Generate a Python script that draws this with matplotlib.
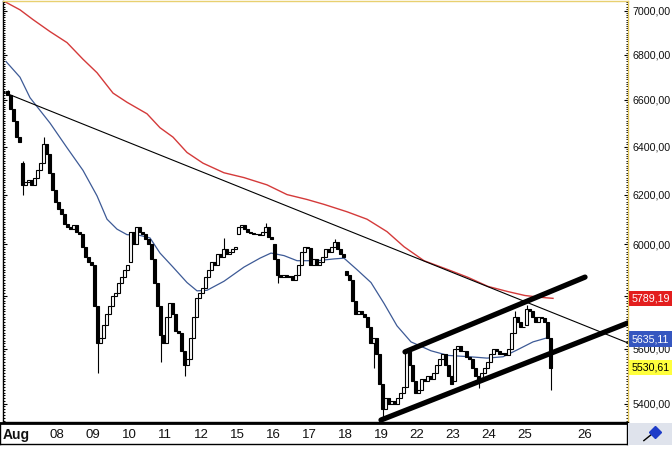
import matplotlib
matplotlib.use('Agg')
import matplotlib.pyplot as plt
import numpy as np
import matplotlib.transforms as mtransforms
from matplotlib.ticker import FixedLocator, FuncFormatter, NullFormatter

plt.rcParams['font.family'] = ['Liberation Sans', 'DejaVu Sans']

# ---------------- data ----------------
bars_per_day = 12
session_day = [-1, 0, 1, 2, 3, 4, 5, 6, 7, 8, 9, 10, 11, 12, 13, 14]
session_first_bar = [7, 0, 0, 0, 0, 0, 0, 0, 0, 0, 0, 0, 0, 0, 0, 0]
session_open = [6640, 6330, 6170, 5920, 5930, 5620, 5810, 6040,
                6000, 5985, 5895, 5470, 5440, 5480, 5550, 5690]

aug06 = [6620, 6560, 6510, 6440, 6420]
aug07 = [6240, 6250, 6260, 6240, 6270, 6300, 6330, 6410, 6370, 6290, 6220, 6170]
aug08 = [6140, 6120, 6080, 6070, 6060, 6075, 6050, 6040, 5990, 5950, 5930, 5920]
aug09 = [5760, 5620, 5640, 5690, 5730, 5760, 5800, 5810, 5850, 5870, 5900, 5920]
aug10 = [6050, 6000, 6070, 6050, 6040, 6020, 6000, 5940, 5850, 5760, 5650, 5620]
aug11 = [5720, 5770, 5730, 5665, 5660, 5590, 5540, 5560, 5640, 5720, 5790, 5810]
aug12 = [5830, 5870, 5900, 5930, 5920, 5960, 5950, 5980, 5960, 5970, 5980, 5990]
aug15 = [6070, 6075, 6060, 6050, 6045, 6040, 6040, 6035, 6050, 6070, 6030, 6020]
aug16 = [5940, 5880, 5870, 5880, 5870, 5875, 5860, 5880, 5920, 5970, 5990, 5985]
aug17 = [5920, 5940, 5920, 5930, 5950, 5980, 5970, 5990, 6010, 5980, 5960, 5950]
aug18 = [5880, 5860, 5780, 5730, 5740, 5730, 5720, 5680, 5620, 5640, 5580, 5470]
aug19 = [5380, 5420, 5400, 5410, 5400, 5420, 5440, 5460, 5590, 5540, 5480, 5440]
aug22 = [5450, 5490, 5480, 5500, 5490, 5510, 5540, 5560, 5580, 5540, 5500, 5470]
aug23 = [5600, 5610, 5590, 5590, 5570, 5560, 5530, 5500, 5480, 5510, 5530, 5550]
aug24 = [5580, 5600, 5590, 5580, 5585, 5575, 5600, 5660, 5720, 5700, 5680, 5680]
aug25 = [5750, 5740, 5720, 5700, 5720, 5715, 5700, 5640, 5530.61]
session_closes = [aug06, aug07, aug08, aug09, aug10, aug11, aug12, aug15,
                  aug16, aug17, aug18, aug19, aug22, aug23, aug24, aug25]

# wick extremes: (session number in list, bar in session, price)
wick_highs = [(0, 0, 6645), (1, 0, 6340), (1, 7, 6440), (6, 7, 6025),
              (7, 9, 6085), (9, 8, 6020), (14, 8, 5740), (15, 0, 5765)]
wick_lows = [(1, 0, 6200), (3, 1, 5510), (4, 10, 5550), (5, 6, 5500),
             (8, 1, 5850), (10, 9, 5530), (11, 0, 5345), (13, 8, 5455),
             (15, 8, 5450)]

# moving averages (x in day units, Aug 7 = 0)
blue_x = [-0.417, -0.028, 0.25, 0.806, 1.278, 1.722, 2.111, 2.389, 2.667, 2.944,
          3.306, 3.583, 3.861, 4.222, 4.611, 4.889, 5.167, 5.639, 6.194, 6.639,
          6.944, 7.306, 7.667, 8.222, 8.694, 8.972, 9.333, 9.722, 10.083, 10.444,
          10.833, 11.389, 11.861, 12.472, 12.944, 13.389, 13.778, 14.222, 14.611, 14.75]
blue_y = [6770, 6700, 6610, 6500, 6395, 6300, 6195, 6100, 6060, 6038,
          6035, 6025, 5965, 5910, 5850, 5818, 5820, 5855, 5910, 5945,
          5965, 5955, 5935, 5935, 5942, 5945, 5900, 5850, 5770, 5685,
          5625, 5592, 5575, 5570, 5565, 5570, 5595, 5625, 5640, 5635.11]
red_x = [-0.417, -0.028, 0.333, 0.806, 1.278, 1.722, 2.111, 2.556, 2.944, 3.5,
         3.861, 4.222, 4.611, 5.056, 5.639, 6.194, 6.833, 7.389, 7.944, 8.417,
         9.056, 9.611, 10.167, 10.639, 11.194, 11.861, 12.417, 12.972, 13.528, 14.0,
         14.444, 14.778]
red_y = [7040, 7005, 6960, 6905, 6855, 6780, 6720, 6630, 6590, 6540,
         6480, 6440, 6375, 6330, 6290, 6270, 6240, 6200, 6180, 6160,
         6130, 6100, 6050, 5990, 5935, 5900, 5870, 5835, 5815, 5800,
         5793, 5789.19]

# trend lines (x in day units, price)
trend_x = [-0.5, 16.861]
trend_y = [6635, 5621]
chan_up_x = [10.667, 15.667]
chan_up_y = [5588, 5871]
chan_lo_x = [10.0, 16.861]
chan_lo_y = [5342, 5696]

# axis labels
day_labels = ['08', '09', '10', '11', '12', '15', '16', '17', '18', '19',
              '22', '23', '24', '25', '26']
day_label_pos = [1, 2, 3, 4, 5, 6, 7, 8, 9, 10, 11, 12, 13, 14, 15.67]
y_ticks = [5400, 5600, 5800, 6000, 6200, 6400, 6600, 6800, 7000]
hidden_tick_labels = [5800]  # covered by the red value box in the original
last_values = [5789.19, 5635.11, 5530.61]
last_colors = ['#e31e1e', '#3556c0', '#ffff3c']
last_text_colors = ['white', 'white', 'black']

# ---------------- build candles ----------------
xs, o, c, sidx, bidx = [], [], [], [], []
for s, (d, fb, op, cl) in enumerate(zip(session_day, session_first_bar,
                                         session_open, session_closes)):
    prev = op
    for j, v in enumerate(cl):
        xs.append(d + (fb + j + 0.5) / bars_per_day)
        o.append(prev)
        c.append(v)
        sidx.append(s)
        bidx.append(j)
        prev = v
xs = np.array(xs); o = np.array(o, float); c = np.array(c, float)
hi = np.maximum(o, c); lo = np.minimum(o, c)
pos = {(s, b): i for i, (s, b) in enumerate(zip(sidx, bidx))}
for s, b, p in wick_highs:
    i = pos[(s, b)]; hi[i] = max(hi[i], p)
for s, b, p in wick_lows:
    i = pos[(s, b)]; lo[i] = min(lo[i], p)

# ---------------- figure ----------------
W, H = 672, 450
fig = plt.figure(figsize=(W / 100, H / 100), dpi=100)
fig.patch.set_facecolor('white')
ax = fig.add_axes([3 / W, (H - 422) / H, 625 / W, 421 / H])
ax.set_yscale('log')
ax.set_ylim(5335, 7046)
ax.set_xlim(-0.5, 16.861)

ax.vlines(xs, lo, hi, color='black', lw=0.8, zorder=3)
up = c >= o
bw = 0.06
ax.bar(xs[up], (c - o)[up], bottom=o[up], width=bw, facecolor='white',
       edgecolor='black', lw=0.8, zorder=4)
ax.bar(xs[~up], (o - c)[~up], bottom=c[~up], width=bw, facecolor='black',
       edgecolor='black', lw=0.8, zorder=4)

ax.plot(red_x, red_y, color='#d43a3a', lw=1.0, zorder=2)
ax.plot(blue_x, blue_y, color='#3d5a96', lw=0.9, zorder=2)
ax.plot(trend_x, trend_y, color='black', lw=0.8, zorder=5)
ax.plot(chan_up_x, chan_up_y, color='black', lw=3.8, solid_capstyle='round', zorder=5)
ax.plot(chan_lo_x, chan_lo_y, color='black', lw=3.8, solid_capstyle='round', zorder=5)

ax.set_xticks([])
ax.yaxis.set_major_locator(FixedLocator(y_ticks))
ax.yaxis.set_major_formatter(FuncFormatter(
    lambda v, p: '' if round(v) in hidden_tick_labels else f"{v:.2f}".replace('.', ',')))
ax.yaxis.set_minor_locator(FixedLocator(np.arange(5340, 7046, 10)))
ax.yaxis.set_minor_formatter(NullFormatter())
ax.tick_params(axis='y', which='both', direction='in', left=True, right=True,
               labelleft=False, labelright=True, colors='black')
ax.tick_params(axis='y', which='major', length=3, width=0.8, pad=3, labelsize=7.7,
               labelcolor='#111111')
ax.tick_params(axis='y', which='minor', length=1.5, width=0.7)
ax.spines['left'].set_color('black')
ax.spines['bottom'].set_color('black')
ax.spines['top'].set_color('#e8d070')
ax.spines['right'].set_color('#e2c65a')
for sp in ax.spines.values():
    sp.set_linewidth(1.0)

trans = mtransforms.blended_transform_factory(ax.transAxes, ax.transData)
for v, fc, tc in zip(last_values, last_colors, last_text_colors):
    ax.text(1.006, v, f"{v:.2f}".replace('.', ','), transform=trans, fontsize=7.7,
            color=tc, va='center', ha='left', clip_on=False, zorder=10,
            bbox=dict(boxstyle='square,pad=0.25', fc=fc, ec='none'))

# date axis
ax2 = fig.add_axes([0, (H - 444) / H, 627 / W, 21 / H])
ax2.set_xlim(-0.5833, 16.8333)
ax2.set_ylim(0, 1)
ax2.set_xticks([]); ax2.set_yticks([])
for sp in ax2.spines.values():
    sp.set_linewidth(1.0)
ax2.spines['top'].set_linewidth(2.0)
for lab, p in zip(day_labels, day_label_pos):
    ax2.text(p, 0.42, lab, ha='center', va='center', fontsize=9.5, color='#111111')
ax2.text(0.005, 0.42, 'Aug', transform=ax2.transAxes, ha='left', va='center',
         fontsize=10, fontweight='bold', color='#111111')

# corner box with tool icon
ax3 = fig.add_axes([628 / W, (H - 445) / H, 44 / W, 22 / H])
ax3.set_facecolor('#dfe3ec')
ax3.set_xlim(0, 1); ax3.set_ylim(0, 1)
ax3.set_xticks([]); ax3.set_yticks([])
for sp in ax3.spines.values():
    sp.set_visible(False)
ax3.plot([0.36, 0.62], [0.2, 0.62], color='black', lw=1.0)
ax3.plot([0.62], [0.6], marker='D', color='#1e3cc8', markersize=6)

fig.savefig('out.png', dpi=100, facecolor='white')
